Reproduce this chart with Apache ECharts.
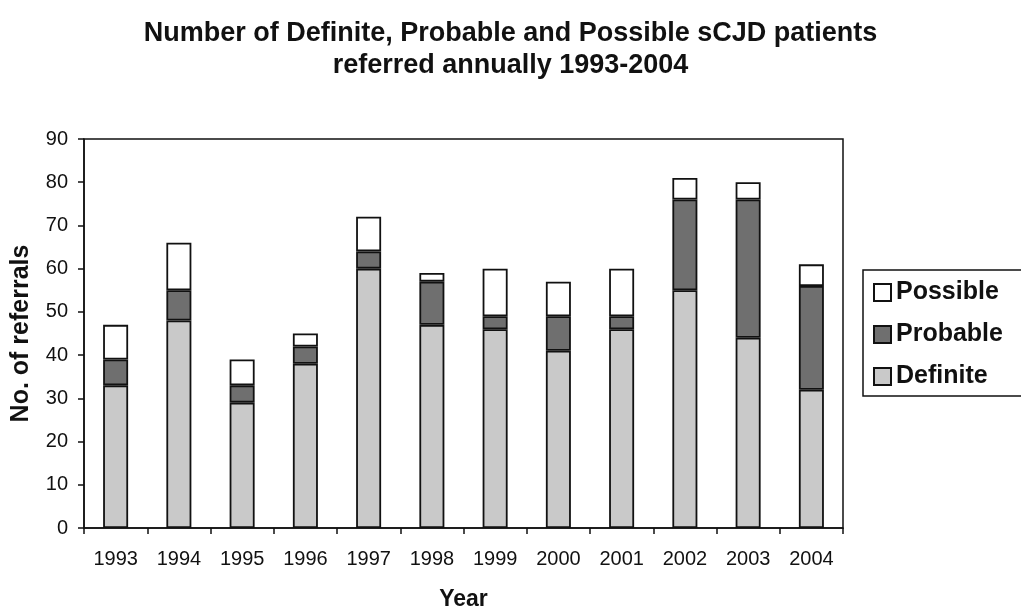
<!DOCTYPE html>
<html>
<head>
<meta charset="utf-8">
<script src="https://cdn.jsdelivr.net/npm/echarts@6/dist/echarts.min.js"></script>
<style>html,body{margin:0;padding:0;background:#fff}#c{width:1021px;height:609px}</style>
</head>
<body>
<div id="c"></div>
<script>
const years = ['1993','1994','1995','1996','1997','1998','1999','2000','2001','2002','2003','2004'];
const definite = [33,48,29,38,60,47,46,41,46,55,44,32];
const probable = [6,7,4,4,4,10,3,8,3,21,32,24];
const possible = [8,11,6,3,8,2,11,8,11,5,4,5];
const yTicks = [0,10,20,30,40,50,60,70,80,90];

const FONT = '"Liberation Sans", Arial, sans-serif';
const chart = echarts.init(document.getElementById('c'));
const barStyle = (color) => ({ color: color, borderColor: '#111', borderWidth: 1.8 });
chart.setOption({
  animation: false,
  title: {
    text: 'Number of Definite, Probable and Possible sCJD patients\nreferred annually 1993-2004',
    left: 'center', top: 13,
    textStyle: { fontFamily: FONT, fontWeight: 'bold', fontSize: 27, color: '#111', lineHeight: 32 }
  },
  legend: {
    data: ['Possible','Probable','Definite'],
    orient: 'vertical', left: 863, top: 270,
    borderColor: '#111', borderWidth: 1.5,
    padding: [10, 40, 7, 10],
    itemGap: 17, itemWidth: 17, itemHeight: 17, icon: 'rect',
    textStyle: { fontFamily: FONT, fontWeight: 'bold', fontSize: 25, color: '#111', lineHeight: 25 }
  },
  grid: { left: 84, right: 178, top: 139, bottom: 81, show: true, borderColor: '#111', borderWidth: 1.5, containLabel: false, outerBoundsMode: 'none' },
  xAxis: {
    type: 'category', data: years,
    name: 'Year', nameLocation: 'middle', nameGap: 60,
    nameTextStyle: { fontFamily: FONT, fontWeight: 'bold', fontSize: 23, color: '#111' },
    axisLine: { lineStyle: { color: '#111', width: 1.5 } },
    axisTick: { show: true, length: 6, lineStyle: { color: '#111', width: 1.5 } },
    axisLabel: { fontFamily: FONT, fontSize: 20, color: '#111', margin: 21 }
  },
  yAxis: {
    type: 'value', min: yTicks[0], max: yTicks[yTicks.length-1], interval: 10,
    name: 'No. of referrals', nameLocation: 'middle', nameGap: 50,
    nameTextStyle: { fontFamily: FONT, fontWeight: 'bold', fontSize: 25, color: '#111' },
    axisLine: { show: true, lineStyle: { color: '#111', width: 1.5 } },
    axisTick: { show: true, length: 6, lineStyle: { color: '#111', width: 1.5 } },
    axisLabel: { fontFamily: FONT, fontSize: 20, color: '#111', margin: 16 },
    splitLine: { show: false }
  },
  series: [
    { name: 'Definite', type: 'bar', stack: 'a', barWidth: 25, data: definite, itemStyle: barStyle('#c9c9c9') },
    { name: 'Probable', type: 'bar', stack: 'a', barWidth: 25, data: probable, itemStyle: barStyle('#6f6f6f') },
    { name: 'Possible', type: 'bar', stack: 'a', barWidth: 25, data: possible, itemStyle: barStyle('#ffffff') }
  ]
});
</script>
</body>
</html>
